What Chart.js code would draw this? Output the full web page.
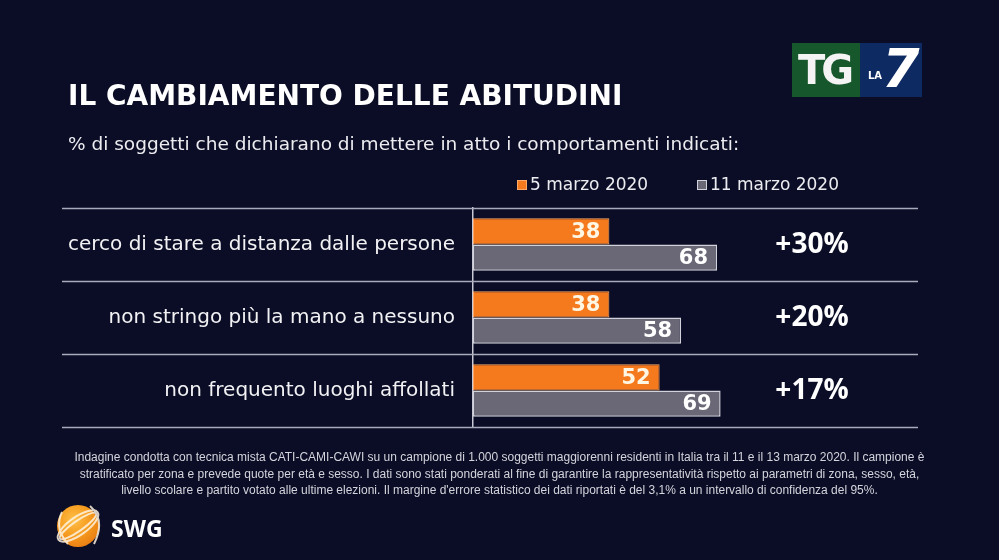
<!DOCTYPE html>
<html>
<head>
<meta charset="utf-8">
<script src="https://cdn.jsdelivr.net/npm/chart.js@4"></script>
<style>
  html,body{margin:0;padding:0;background:#0b0d26;}
  #wrap{position:relative;width:999px;height:560px;background:#0b0d26;overflow:hidden;font-family:"DejaVu Sans",sans-serif;}
  #c{position:absolute;left:0;top:0;}
  .t{position:absolute;color:#fff;white-space:nowrap;}
  #title{left:68px;top:79px;font:bold 28px "DejaVu Sans";}
  #sub{left:68px;top:133px;font:18.5px "DejaVu Sans";color:#ececf0;}
  #foot{left:0;width:999px;top:449px;text-align:center;font:12px "Liberation Sans";color:#d4d4dc;line-height:16.5px;}
  #footin{display:inline-block;transform-origin:50% 0;}
  #tg{position:absolute;left:792px;top:43px;width:130px;height:54px;}
  #tg .g{position:absolute;left:0;top:0;width:68px;height:54px;background:#17572c;}
  #tg .b{position:absolute;left:68px;top:0;width:62px;height:54px;background:#0d2a63;}
  #tg .tgt{position:absolute;left:6px;top:4px;font:900 40px "DejaVu Sans";color:#f4f4f4;letter-spacing:-4px;line-height:46px;}
  #tg .la{position:absolute;left:76px;top:27px;font:bold 10px "DejaVu Sans";color:#fff;}
  #tg .seven{position:absolute;left:90px;top:-4px;font:900 54px "DejaVu Sans";color:#fff;font-style:italic;line-height:60px;}
  #globe{position:absolute;left:57px;top:505px;width:42px;height:42px;border-radius:50%;background:radial-gradient(circle at 40% 35%,#ffc04a 0%,#f59a1c 45%,#e06a10 100%);}
  #swg{position:absolute;left:111px;top:512px;font:bold 23px "Open Sans";color:#fff;}
</style>
</head>
<body>
<div id="wrap">
  <canvas id="c" width="999" height="560"></canvas>
  <div class="t" id="title">IL CAMBIAMENTO DELLE ABITUDINI</div>
  <div class="t" id="sub">% di soggetti che dichiarano di mettere in atto i comportamenti indicati:</div>
  <div class="t" id="foot"><div id="footin">Indagine condotta con tecnica mista CATI-CAMI-CAWI su un campione di 1.000 soggetti maggiorenni residenti in Italia tra il 11 e il 13 marzo 2020. Il campione è<br>stratificato per zona e prevede quote per età e sesso. I dati sono stati ponderati al fine di garantire la rappresentatività rispetto ai parametri di zona, sesso, età,<br>livello scolare e partito votato alle ultime elezioni. Il margine d'errore statistico dei dati riportati è del 3,1% a un intervallo di confidenza del 95%.</div></div>
  <div id="tg"><div class="g"></div><div class="b"></div><div class="tgt">TG</div><div class="la">LA</div><div class="seven">7</div></div>
  <div id="globe"></div>
  <svg style="position:absolute;left:50px;top:498px" width="60" height="56">
    <g fill="none" stroke="#fff3e0" stroke-width="2" opacity="0.85">
      <ellipse cx="28" cy="28" rx="24" ry="9" transform="rotate(-35 28 28)"/>
      <ellipse cx="28" cy="28" rx="22" ry="5" transform="rotate(-35 28 28)"/>
      <path d="M12 14 Q4 30 18 46" />
      <path d="M40 8 Q56 22 44 46" />
    </g>
  </svg>
  <div id="swg">SWG</div>
</div>
<script>
const categories = ["cerco di stare a distanza dalle persone", "non stringo più la mano a nessuno", "non frequento luoghi affollati"];
const seriesNames = ["5 marzo 2020", "11 marzo 2020"];
const march5 = [38, 38, 52];
const march11 = [68, 58, 69];
const diffLabels = ["+30%", "+20%", "+17%"];

const ORANGE = "#f57a1e", GREY = "#6a6776";

// condense the footnote to its width in the reference
(function(){
  const f = document.getElementById("footin");
  const w = f.getBoundingClientRect().width;
  f.style.transform = "scaleX(" + (850 / w) + ")";
})();

const decor = {
  id: "decor",
  beforeDatasetsDraw(chart) {
    const ctx = chart.ctx, y = chart.scales.y, ca = chart.chartArea;
    const step = y.getPixelForValue(1) - y.getPixelForValue(0);
    ctx.save();
    ctx.strokeStyle = "#a8aabb";
    ctx.lineWidth = 1.5;
    for (let i = 0; i <= categories.length; i++) {
      const py = Math.round(y.getPixelForValue(i) - step / 2) + 0.5;
      ctx.beginPath(); ctx.moveTo(62, py); ctx.lineTo(ca.right, py); ctx.stroke();
    }
    ctx.restore();
  },
  afterDatasetsDraw(chart) {
    const ctx = chart.ctx, y = chart.scales.y;
    ctx.save();
    ctx.textAlign = "right"; ctx.textBaseline = "middle";
    ctx.font = "bold 21px 'DejaVu Sans'";
    chart.data.datasets.forEach((ds, di) => {
      const meta = chart.getDatasetMeta(di);
      meta.data.forEach((el, i) => {
        ctx.fillStyle = di === 0 ? "#fff6e4" : "#ffffff";
        ctx.fillText(String(ds.data[i]), el.x - 9, el.y + 1);
      });
    });
    ctx.textAlign = "center";
    ctx.font = "bold 28px 'Open Sans'";
    ctx.fillStyle = "#ffffff";
    diffLabels.forEach((t, i) => ctx.fillText(t, 812, y.getPixelForValue(i) + 1));
    // legend
    ctx.font = "17px 'DejaVu Sans'";
    ctx.textAlign = "left";
    const lx = [517, 697];
    chart.data.datasets.forEach((ds, di) => {
      ctx.fillStyle = ds.backgroundColor;
      ctx.fillRect(lx[di], 180, 10, 10);
      ctx.strokeStyle = ds.borderColor; ctx.lineWidth = 1;
      ctx.strokeRect(lx[di] + 0.5, 180.5, 9, 9);
      ctx.fillStyle = "#ececf0";
      ctx.fillText(ds.label, lx[di] + 13, 186);
    });
    ctx.restore();
  }
};

new Chart(document.getElementById("c"), {
  type: "bar",
  data: {
    labels: categories,
    datasets: [
      { label: seriesNames[0], data: march5, backgroundColor: ORANGE, borderColor: "#ffa868", borderWidth: 1, borderSkipped: false },
      { label: seriesNames[1], data: march11, backgroundColor: GREY, borderColor: "#d2d2da", borderWidth: 1.5, borderSkipped: false }
    ]
  },
  options: {
    indexAxis: "y",
    responsive: false,
    animation: false,
    devicePixelRatio: 1,
    layout: { padding: { left: 0, right: 81, top: 208, bottom: 133 } },
    datasets: { bar: { categoryPercentage: 0.72, barPercentage: 1.0 } },
    plugins: { legend: { display: false }, tooltip: { enabled: false }, title: { display: false } },
    scales: {
      x: { display: false, min: 0, max: 124 },
      y: {
        afterFit(scale) { scale.width = 473; },
        grid: { display: false, drawTicks: false },
        border: { display: true, color: "#c8c8d4", width: 1.5 },
        ticks: { color: "#f2f2f4", font: { family: "DejaVu Sans", size: 20 }, padding: 18 }
      }
    }
  },
  plugins: [decor]
});
</script>
</body>
</html>
